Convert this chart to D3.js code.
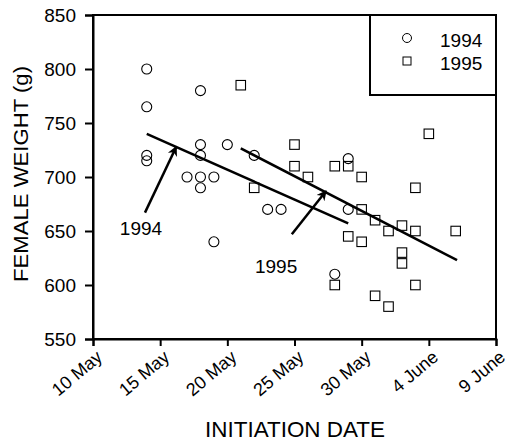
<!DOCTYPE html>
<html>
<head>
<meta charset="utf-8">
<script src="https://cdn.jsdelivr.net/npm/d3@7"></script>
<style>
  body { margin: 0; background: #fff; }
  text { font-family: Arial, "Liberation Sans", sans-serif; fill: #000; }
</style>
</head>
<body>
<svg width="516" height="442"></svg>
<script>
// days counted from 1 May (1 June = 32)
var day1994 = [14, 14, 14, 14, 17, 18, 18, 18, 18, 18, 19, 19, 20, 22, 23, 24, 28, 29, 29];
var weight1994 = [800, 765, 720, 715, 700, 780, 730, 720, 700, 690, 700, 640, 730, 720, 670, 670, 610, 717, 670];

var day1995 = [21, 22, 25, 25, 26, 28, 28, 29, 29, 30, 30, 30, 31, 31, 32, 32, 33, 33, 33, 34, 34, 34, 35, 37];
var weight1995 = [785, 690, 730, 710, 700, 710, 600, 710, 645, 700, 670, 640, 660, 590, 650, 580, 655, 630, 620, 690, 650, 600, 740, 650];

// regression lines [start, end]
var fitDay1994 = [14, 29], fitWeight1994 = [740, 657];
var fitDay1995 = [21, 37.1], fitWeight1995 = [726.5, 623];

var xTicks = [10, 15, 20, 25, 30, 35, 40];
var xTickLabels = ['10 May', '15 May', '20 May', '25 May', '30 May', '4 June', '9 June'];
var yTicks = [550, 600, 650, 700, 750, 800, 850];
var legendLabels = ['1994', '1995'];

var margin = { top: 15, right: 20, bottom: 103, left: 93 },
    width = 516 - margin.left - margin.right,
    height = 442 - margin.top - margin.bottom;

var svg = d3.select('svg').append('g')
    .attr('transform', 'translate(' + margin.left + ',' + margin.top + ')');

var x = d3.scaleLinear().domain([10, 40]).range([0, width]);
var y = d3.scaleLinear().domain([550, 850]).range([height, 0]);

// frame
svg.append('rect')
    .attr('width', width).attr('height', height)
    .attr('fill', 'none').attr('stroke', '#000').attr('stroke-width', 2);

var xAxis = svg.append('g')
    .attr('transform', 'translate(0,' + height + ')')
    .call(d3.axisBottom(x).tickValues(xTicks).tickSize(7).tickFormat(''));
xAxis.select('.domain').attr('stroke-width', 2);
xAxis.selectAll('.tick line').attr('stroke-width', 2);

xAxis.selectAll('.tick')
    .append('text')
    .attr('transform', 'translate(10,20) rotate(-40)')
    .attr('text-anchor', 'end')
    .attr('font-size', 18)
    .text(function (d, i) { return xTickLabels[i]; });

var yAxis = svg.append('g')
    .call(d3.axisLeft(y).tickValues(yTicks).tickSize(8).tickPadding(9));
yAxis.select('.domain').attr('stroke-width', 2);
yAxis.selectAll('.tick line').attr('stroke-width', 2);
yAxis.selectAll('.tick text').attr('font-size', 19).attr('font-family', 'Arial, "Liberation Sans", sans-serif');

// axis titles
svg.append('text')
    .attr('x', 295 - margin.left).attr('y', height + 98)
    .attr('text-anchor', 'middle').attr('font-size', 22)
    .attr('textLength', 180).attr('lengthAdjust', 'spacingAndGlyphs')
    .text('INITIATION DATE');
svg.append('text')
    .attr('transform', 'translate(-65,' + (height / 2 - 3) + ') rotate(-90)')
    .attr('text-anchor', 'middle').attr('font-size', 21)
    .attr('textLength', 216).attr('lengthAdjust', 'spacingAndGlyphs')
    .text('FEMALE WEIGHT (g)');

// regression lines
var line = d3.line().x(function (d) { return x(d[0]); }).y(function (d) { return y(d[1]); });
svg.append('path')
    .datum(d3.zip(fitDay1994, fitWeight1994))
    .attr('d', line).attr('fill', 'none').attr('stroke', '#000').attr('stroke-width', 2.5);
svg.append('path')
    .datum(d3.zip(fitDay1995, fitWeight1995))
    .attr('d', line).attr('fill', 'none').attr('stroke', '#000').attr('stroke-width', 2.5);

// points
svg.selectAll('circle.p94')
    .data(d3.zip(day1994, weight1994))
    .enter().append('circle')
    .attr('class', 'p94')
    .attr('cx', function (d) { return x(d[0]); })
    .attr('cy', function (d) { return y(d[1]); })
    .attr('r', 5)
    .attr('fill', 'none').attr('stroke', '#000').attr('stroke-width', 1.1);

var s = 9.5;
svg.selectAll('rect.p95')
    .data(d3.zip(day1995, weight1995))
    .enter().append('rect')
    .attr('class', 'p95')
    .attr('x', function (d) { return x(d[0]) - s / 2; })
    .attr('y', function (d) { return y(d[1]) - s / 2; })
    .attr('width', s).attr('height', s)
    .attr('fill', 'none').attr('stroke', '#000').attr('stroke-width', 1.1);

// arrows
svg.append('defs').append('marker')
    .attr('id', 'head')
    .attr('viewBox', '0 0 10 10')
    .attr('refX', 9).attr('refY', 5)
    .attr('markerWidth', 14).attr('markerHeight', 10)
    .attr('orient', 'auto')
    .attr('markerUnits', 'userSpaceOnUse')
    .append('path').attr('d', 'M0,0L10,5L0,10L3,5Z').attr('fill', '#000');

var arrows = [
    { label: '1994', from: [13.87, 667], to: [16.2, 728], text: [13.57, 646] },
    { label: '1995', from: [24.8, 647], to: [27.35, 687], text: [23.63, 611] }
];
arrows.forEach(function (a) {
    svg.append('line')
        .attr('x1', x(a.from[0])).attr('y1', y(a.from[1]))
        .attr('x2', x(a.to[0])).attr('y2', y(a.to[1]))
        .attr('stroke', '#000').attr('stroke-width', 2.5)
        .attr('marker-end', 'url(#head)');
    svg.append('text')
        .attr('x', x(a.text[0])).attr('y', y(a.text[1]))
        .attr('text-anchor', 'middle').attr('font-size', 19)
        .text(a.label);
});

// legend
var lg = svg.append('g').attr('transform', 'translate(' + (width - 126) + ',0)');
lg.append('rect')
    .attr('width', 126).attr('height', 80)
    .attr('fill', '#fff').attr('stroke', '#000').attr('stroke-width', 2);
lg.append('circle').attr('cx', 37).attr('cy', 23).attr('r', 4.5)
    .attr('fill', 'none').attr('stroke', '#000').attr('stroke-width', 1);
lg.append('rect').attr('x', 33).attr('y', 42).attr('width', 8).attr('height', 8)
    .attr('fill', 'none').attr('stroke', '#000').attr('stroke-width', 1);
lg.selectAll('text.leg')
    .data(legendLabels)
    .enter().append('text')
    .attr('class', 'leg')
    .attr('x', 70)
    .attr('y', function (d, i) { return 32 + i * 23; })
    .attr('font-size', 19)
    .text(function (d) { return d; });
</script>
</body>
</html>
